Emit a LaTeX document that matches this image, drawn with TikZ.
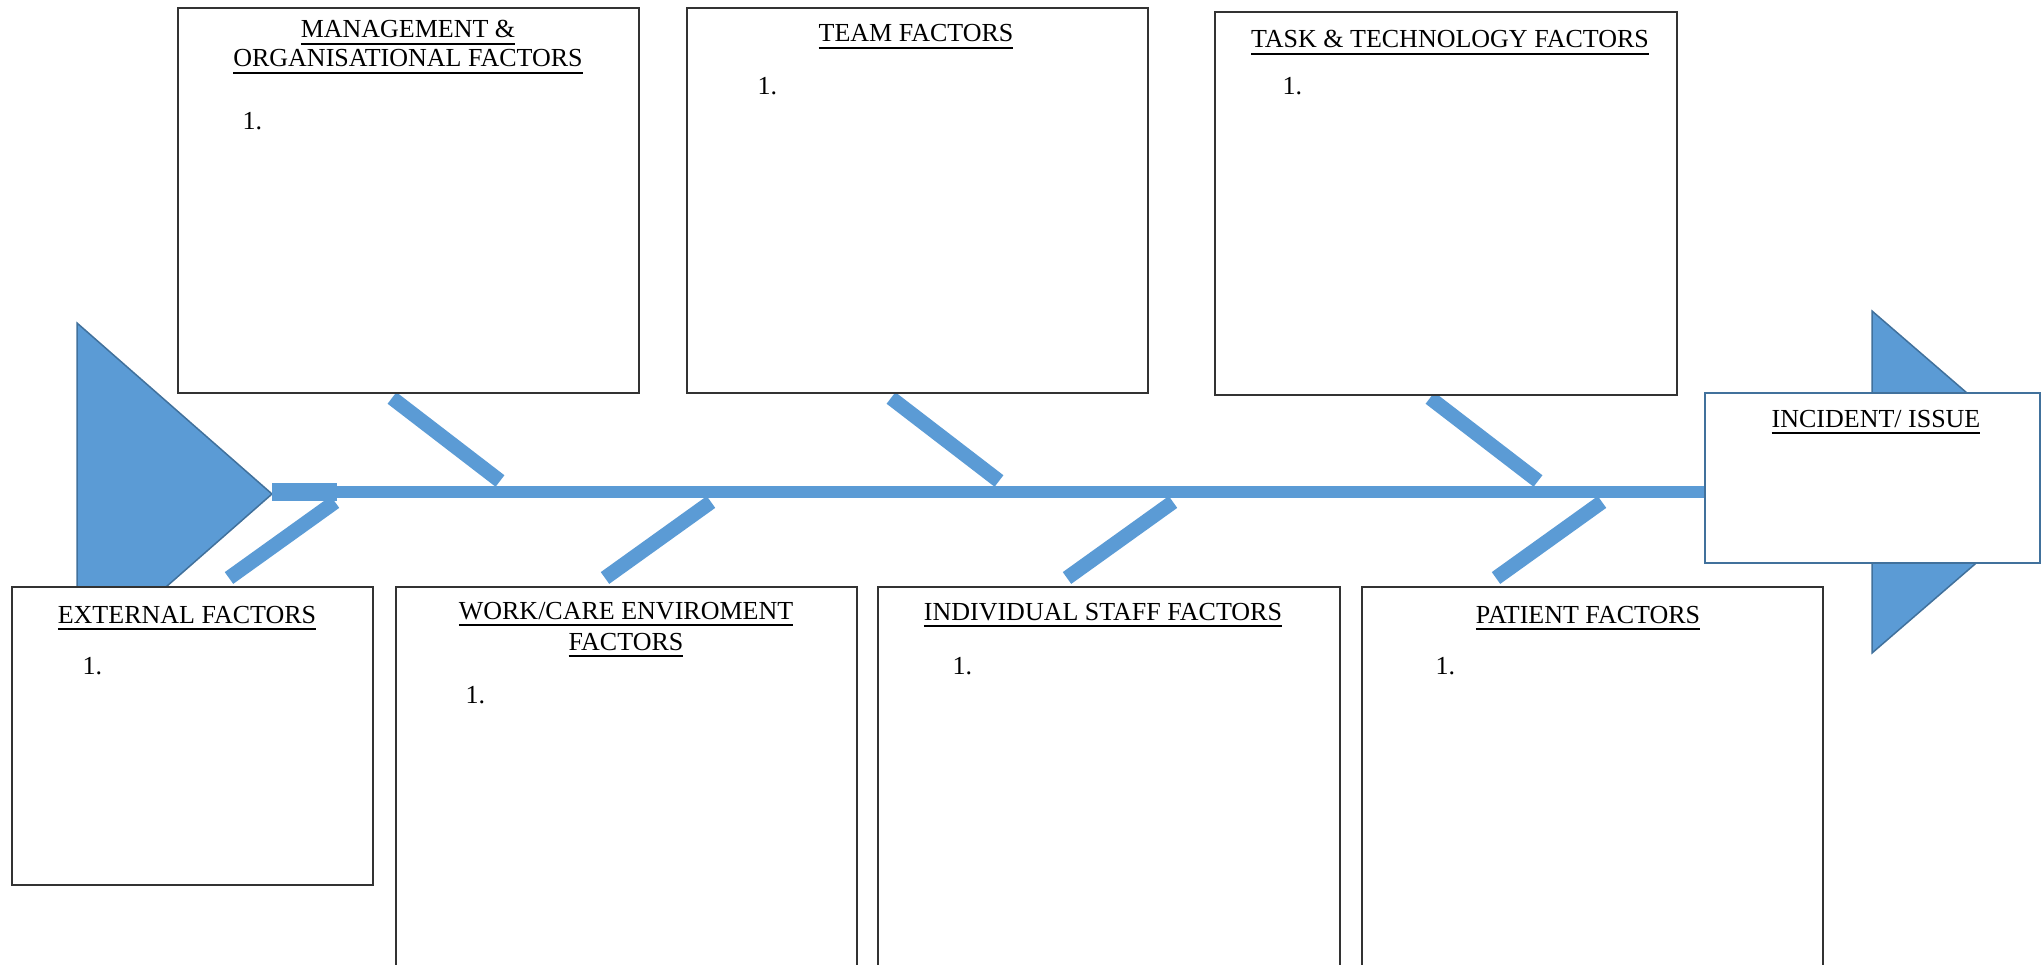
\documentclass[tikz,border=0pt]{standalone}
\usepackage{fontspec}
\setmainfont{Liberation Serif}
\usepackage{tikz}
\usetikzlibrary{fit}
\definecolor{boneblue}{HTML}{5B9BD5}
\definecolor{edgeblue}{HTML}{41719C}
\newcommand{\factorhead}[1]{\setbox0\hbox{#1}\rlap{\rule[-2.8pt]{\wd0}{0.8pt}}\box0}

\begin{document}
\begin{tikzpicture}[x=0.4pt, y=-0.4pt, font=\fontsize{10.4}{12}\selectfont]
    \tikzstyle{factor} = [draw=black!80, line width=0.7pt, fill=white, inner sep=0pt];
    \tikzstyle{head} = [anchor=base, align=center, inner sep=0pt];
    \tikzstyle{item} = [anchor=base west, inner sep=0pt];
    \tikzstyle{bone} = [draw=boneblue, line width=5.8pt];
    \tikzstyle{fin} = [fill=boneblue, draw=edgeblue, line width=0.6pt];
    \clip (0,0) rectangle (2044,965);
    \fill[white] (0,0) rectangle (2044,965);

    \draw[fin] (77,323) -- (272,494) -- (77,665) -- cycle;
    \begin{scope}
        \clip (1800,300) rectangle (2040,700);
        \draw[fin] (1872,311) -- (2070,482) -- (1872,653) -- cycle;
    \end{scope}

    \node[factor, draw=edgeblue, fit={(1705,393) (2040,563)}] (incident) {};
    \coordinate (tail) at (272,492);
    \coordinate (stub) at (337,492);
    \draw[bone, line width=4.6pt] (tail) -- (tail -| incident.west);
    \draw[bone, line width=7pt] (tail) -- (stub);

    \foreach \x/\n in {392/mgmt, 891/team, 1430/task} {
        \coordinate (\n-a) at (\x,398);
        \coordinate (\n-b) at (\x+108,481);
        \draw[bone] (\n-a) -- (\n-b);
    }
    \foreach \x/\n in {335/ext, 711/work, 1173/indiv, 1602/patient} {
        \coordinate (\n-a) at (\x,502);
        \coordinate (\n-b) at (\x-106,578);
        \draw[bone] (\n-a) -- (\n-b);
    }

    \node[factor, fit={(178,8) (639,393)}] (mgmt) {};
    \node[factor, fit={(687,8) (1148,393)}] (team) {};
    \node[factor, fit={(1215,12) (1677,395)}] (task) {};
    \node[factor, fit={(12,587) (373,885)}] (ext) {};
    \node[factor, fit={(396,587) (857,980)}] (work) {};
    \node[factor, fit={(878,587) (1340,980)}] (indiv) {};
    \node[factor, fit={(1362,587) (1823,980)}] (patient) {};

    \node[head] (mgmt-head) at (408,67) {\factorhead{MANAGEMENT \&}\\[-0.4pt]\factorhead{ORGANISATIONAL FACTORS}};
    \node[head] (team-head) at (916,42) {\factorhead{TEAM FACTORS}};
    \node[head] (task-head) at (1450,48) {\factorhead{TASK \& TECHNOLOGY FACTORS}};
    \node[head] (incident-head) at (1876,427) {\factorhead{INCIDENT/ ISSUE}};
    \node[head] (ext-head) at (187,623) {\factorhead{EXTERNAL FACTORS}};
    \node[head] (work-head) at (626,650) {\factorhead{WORK/CARE ENVIROMENT}\\[0.4pt]\factorhead{FACTORS}};
    \node[head] (indiv-head) at (1103,620) {\factorhead{INDIVIDUAL STAFF FACTORS}};
    \node[head] (patient-head) at (1588,623) {\factorhead{PATIENT FACTORS}};

    \node[item] (mgmt-1) at (242,130) {1.};
    \node[item] (team-1) at (757,95) {1.};
    \node[item] (task-1) at (1282,95) {1.};
    \node[item] (ext-1) at (82,674) {1.};
    \node[item] (work-1) at (465,703) {1.};
    \node[item] (indiv-1) at (952,674) {1.};
    \node[item] (patient-1) at (1435,674) {1.};
\end{tikzpicture}
\end{document}
